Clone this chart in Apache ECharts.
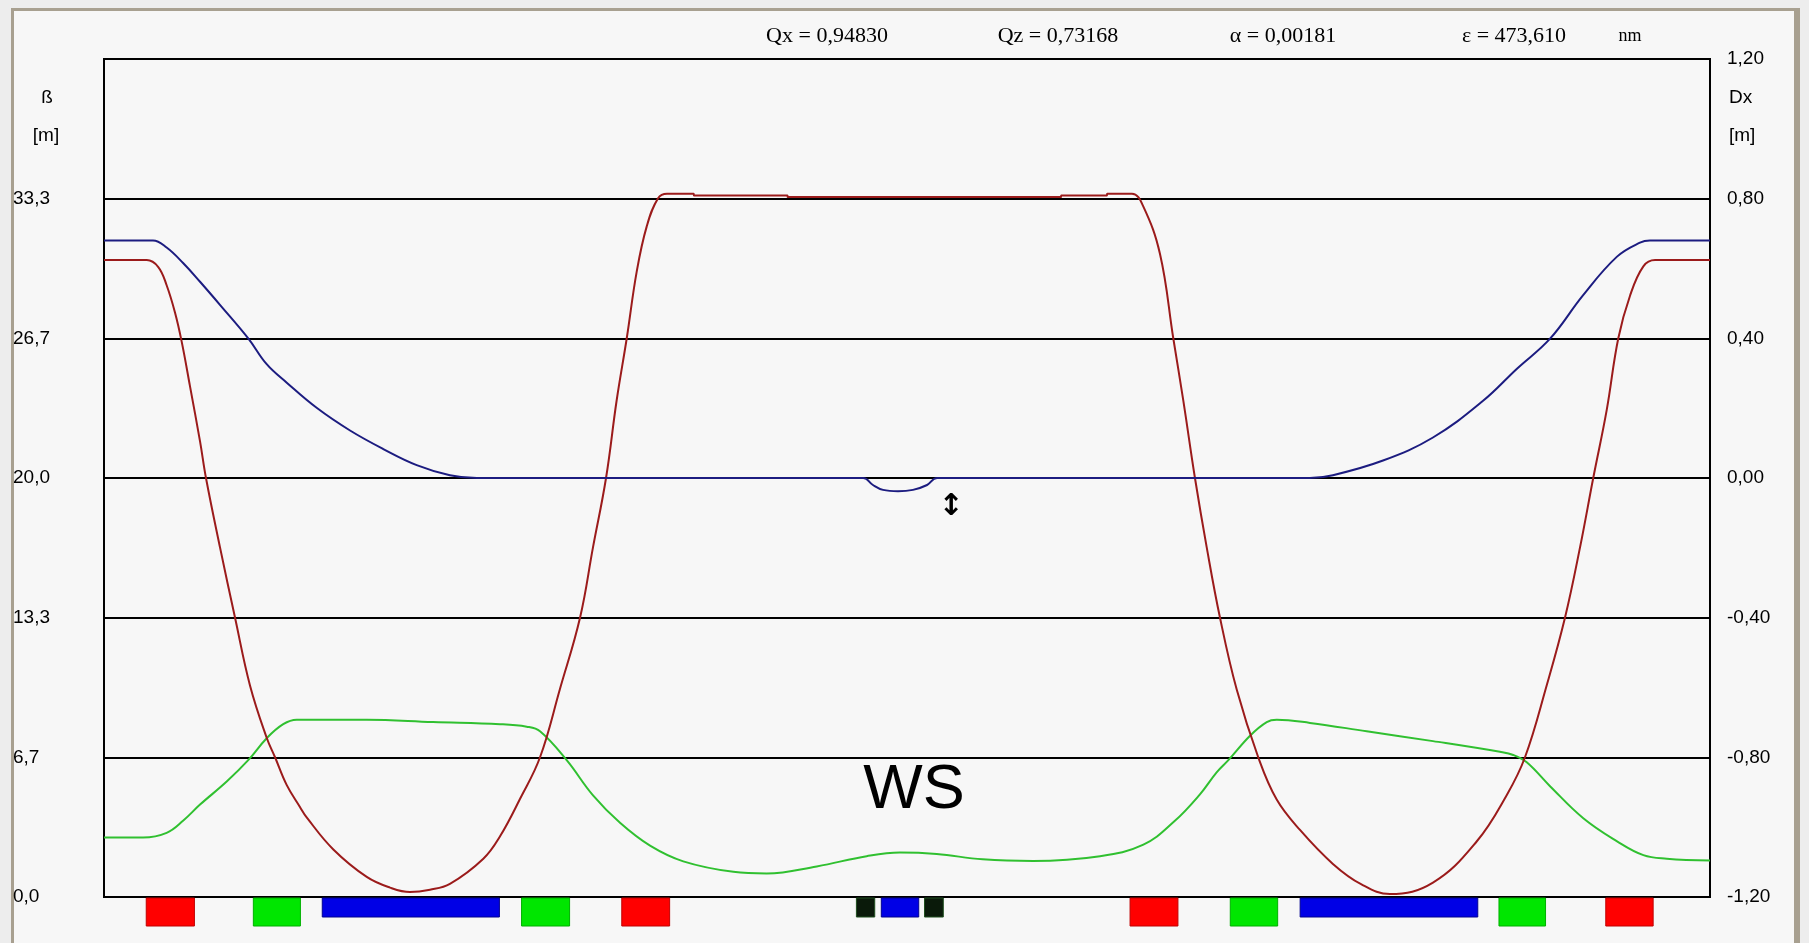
<!DOCTYPE html>
<html>
<head>
<meta charset="utf-8">
<script src="https://cdn.jsdelivr.net/npm/echarts@6/dist/echarts.min.js"></script>
<style>
  html, body { margin: 0; padding: 0; background: #ededed; }
  #frame {
    position: absolute; left: 11px; top: 8px; width: 1789px; height: 940px;
    background: #f7f7f7; border-top: 3px solid #a8a090; border-left: 3px solid #a8a090;
    border-right: 6px solid #a8a090; box-sizing: border-box;
  }
  #chart { position: absolute; left: 0; top: 0; width: 1809px; height: 943px; }
</style>
</head>
<body>
<div id="frame"></div>
<div id="chart"></div>
<script>
// ---- data (s in % of cell length) ----
const betaXCurve = [
  [0, 30.4], [2.66, 30.4], [3.38, 30.07], [3.90, 29.2], [4.42, 27.9], [4.84, 26.5],
  [5.35, 24.4], [5.98, 21.75], [6.35, 20.0], [7.22, 16.7], [8.16, 13.33], [9.09, 10.1],
  [10.13, 7.6], [10.65, 6.67], [11.38, 5.34], [12.2, 4.3], [12.62, 3.80], [14.28, 2.27],
  [16.36, 0.96], [17.81, 0.45], [19.05, 0.24], [20.30, 0.35], [21.54, 0.63], [23.62, 1.83],
  [24.66, 2.9], [25.90, 4.68], [27.15, 6.67], [28.39, 9.93], [29.64, 13.33], [30.45, 16.7],
  [31.26, 20.0], [31.92, 23.7], [32.55, 26.67], [33.17, 29.85], [33.79, 32.0], [34.50, 33.35],
  [35.06, 33.57], [36.72, 33.57], [36.73, 33.49], [42.56, 33.49], [42.57, 33.41],
  [59.59, 33.41], [59.60, 33.49], [62.45, 33.49], [62.46, 33.57], [64.01, 33.57],
  [64.69, 33.0], [65.75, 30.7], [66.58, 26.67], [67.21, 23.67], [67.93, 20.0], [68.66, 16.7],
  [69.49, 13.33], [70.53, 9.9], [71.87, 6.67], [73.02, 4.65], [74.47, 3.2], [76.52, 1.58],
  [78.3, 0.6], [80.07, 0.14], [82.75, 0.69], [85.47, 2.65], [87.34, 4.86], [88.48, 6.67],
  [89.83, 10.1], [90.97, 13.33], [91.91, 16.7], [92.73, 20.0], [93.57, 23.25], [94.29, 26.67],
  [95.02, 28.7], [95.85, 30.1], [96.58, 30.4], [100, 30.4]
];
const dispersionCurve = [
  [0, 0.68], [3.05, 0.68], [3.90, 0.66], [4.94, 0.615], [5.98, 0.562], [7.22, 0.496],
  [8.98, 0.40], [10.13, 0.326], [11.38, 0.273], [13.24, 0.201], [15.32, 0.136],
  [17.39, 0.083], [19.47, 0.037], [21.54, 0.008], [23.21, 0], [47.28, 0], [47.88, -0.02],
  [48.51, -0.034], [49.44, -0.038], [50.37, -0.034], [51.25, -0.02], [51.87, 0], [75.09, 0],
  [76.52, 0.008], [79.64, 0.05], [82.75, 0.116], [85.87, 0.221], [87.98, 0.313],
  [90.04, 0.399], [92.09, 0.523], [94.21, 0.634], [95.64, 0.674], [96.26, 0.68], [100, 0.68]
];
const betaZCurve = [
  [0, 2.84], [2.43, 2.84], [3.90, 3.06], [4.94, 3.65], [5.98, 4.41], [7.64, 5.51],
  [8.98, 6.53], [10.13, 7.58], [11.16, 8.25], [12.0, 8.46], [16.36, 8.46], [20.49, 8.35],
  [24.66, 8.25], [26.32, 8.13], [27.15, 7.91], [28.81, 6.53], [30.45, 4.85], [32.13, 3.54],
  [34.0, 2.45], [36.07, 1.7], [39.19, 1.2], [41.26, 1.12], [44.38, 1.46], [47.49, 1.95],
  [49.56, 2.12], [51.85, 2.05], [54.71, 1.8], [57.85, 1.72], [62.02, 1.95], [64.72, 2.5],
  [66.63, 3.6], [68.24, 4.9], [69.28, 5.95], [70.01, 6.53], [71.36, 7.7], [72.40, 8.35],
  [73.02, 8.46], [75.09, 8.31], [78.62, 7.91], [82.75, 7.44], [86.92, 6.93], [87.75, 6.78],
  [88.59, 6.43], [90.04, 5.29], [92.11, 3.76], [94.19, 2.67], [95.85, 2.0], [97.31, 1.83],
  [100, 1.74]
];
// elements: [start, end, kind]  kind: 0 red, 1 green, 2 blue, 3 black
const elements = [
  [2.63, 5.63, 0], [9.30, 12.23, 1], [13.59, 24.62, 2], [26.0, 28.99, 1], [32.24, 35.22, 0],
  [46.85, 47.99, 3], [48.40, 50.73, 2], [51.09, 52.26, 3], [63.89, 66.87, 0],
  [70.13, 73.08, 1], [74.48, 85.54, 2], [86.86, 89.76, 1], [93.51, 96.46, 0]
];
const headerTexts = ['Qx = 0,94830', 'Qz = 0,73168', '\u03b1 = 0,00181', '\u03b5 = 473,610', 'nm'];
const annotations = [ ['WS', 50.44, 5.1], ['\u2195', 52.74, 18.6] ];

// ---- chart ----
const chart = echarts.init(document.getElementById('chart'), null, { renderer: 'canvas' });
const fmt1 = v => { if (Math.abs(v) < 1e-9) v = 0; return v > 39.99 ? '' : v.toFixed(1).replace('.', ','); };
const fmt2 = v => { if (Math.abs(v) < 1e-9) v = 0; return v.toFixed(2).replace('.', ','); };
const kindFill = ['#ff0000', '#00e600', '#0000e6', '#0a1a0a'];
const kindStroke = ['#c00000', '#00b000', '#000090', '#1f4f1f'];
const kindTall = [true, true, false, false];

chart.setOption({
  backgroundColor: 'transparent',
  animation: false,
  grid: { left: 104, right: 99, top: 59, bottom: 46, show: true, borderColor: '#000', borderWidth: 2, backgroundColor: 'transparent' },
  xAxis: { type: 'value', min: 0, max: 100, show: false },
  yAxis: [
    { type: 'value', min: 0, max: 40, interval: 40 / 6, position: 'left',
      axisLine: { show: false }, axisTick: { show: false },
      axisLabel: { formatter: fmt1, align: 'left', margin: 91, fontSize: 19, color: '#000', fontFamily: 'Liberation Sans' },
      splitLine: { lineStyle: { color: '#000', width: 2 } } },
    { type: 'value', min: -1.2, max: 1.2, interval: 0.4, position: 'right',
      axisLine: { show: false }, axisTick: { show: false },
      axisLabel: { formatter: fmt2, align: 'left', margin: 17, fontSize: 19, color: '#000', fontFamily: 'Liberation Sans' },
      splitLine: { show: false } }
  ],
  series: [
    { type: 'line', name: 'betaZ', data: betaZCurve, yAxisIndex: 0, showSymbol: false, smooth: 0.4,
      lineStyle: { color: '#30c030', width: 2 }, z: 3 },
    { type: 'line', name: 'betaX', data: betaXCurve, yAxisIndex: 0, showSymbol: false, smooth: 0.4,
      lineStyle: { color: '#9b1b1b', width: 2 }, z: 4 },
    { type: 'line', name: 'Dx', data: dispersionCurve, yAxisIndex: 1, showSymbol: false, smooth: 0.4,
      lineStyle: { color: '#1c1c80', width: 2 }, z: 5 },
    { type: 'custom', name: 'elements', data: elements, yAxisIndex: 0, clip: false,
      encode: { x: [0, 1], y: 2 },
      renderItem: function (params, api) {
        const k = api.value(2);
        const x0 = api.coord([api.value(0), 0])[0];
        const x1 = api.coord([api.value(1), 0])[0];
        const y0 = params.coordSys.y + params.coordSys.height + 1;
        const h = kindTall[k] ? 28 : 19;
        return { type: 'rect', shape: { x: x0, y: y0, width: x1 - x0, height: h },
                 style: { fill: kindFill[k], stroke: kindStroke[k], lineWidth: 1 } };
      } }
  ]
});

const headerX = [827, 1058, 1283, 1514, 1630];
const graphics = [];
headerTexts.forEach((t, i) => graphics.push({ type: 'text', x: headerX[i], y: 36,
  style: { text: t, fill: '#000', font: (i === 4 ? '18px' : '22px') + ' "Liberation Serif"', textAlign: 'center', textVerticalAlign: 'middle' } }));
const sideLabels = [['\u00df', 47, 98, 'center'], ['[m]', 46, 136, 'center'], ['Dx', 1729, 98, 'left'], ['[m]', 1729, 136, 'left']];
sideLabels.forEach(l => graphics.push({ type: 'text', x: l[1], y: l[2],
  style: { text: l[0], fill: '#000', font: '19px "Liberation Sans"', textAlign: l[3], textVerticalAlign: 'middle' } }));
annotations.forEach((a, i) => {
  const p = chart.convertToPixel({ gridIndex: 0 }, [a[1], a[2]]);
  graphics.push({ type: 'text', x: p[0], y: p[1], z: 10,
    style: { text: a[0], fill: '#000', textAlign: 'center', textVerticalAlign: 'middle',
      font: i === 0 ? '63px "Liberation Sans"' : 'bold 30px "DejaVu Sans"' } });
});
chart.setOption({ graphic: graphics });
</script>
</body>
</html>
